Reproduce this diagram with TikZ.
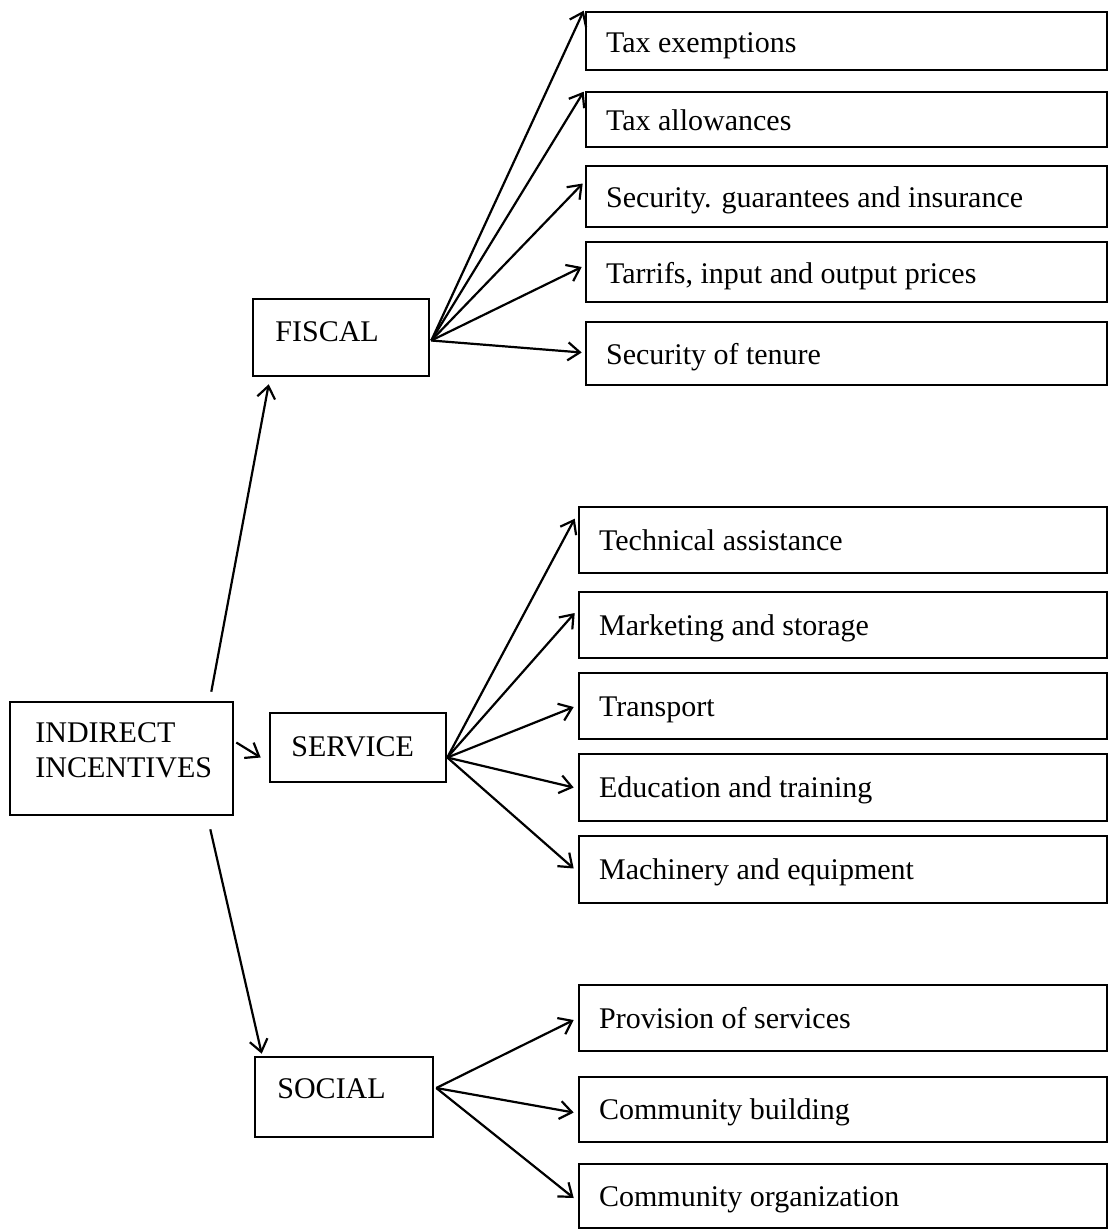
\documentclass[tikz,border=0pt]{standalone}
\usepackage{fontspec}
\setmainfont{Liberation Serif}
\usetikzlibrary{arrows.meta,calc,fit}
\begin{document}
\begin{tikzpicture}[x=0.5pt,y=-0.5pt,
  box/.style={draw, line width=1.3pt, inner sep=0pt},
  lbl/.style={anchor=base west, inner sep=0pt, font=\fontsize{15}{17}\selectfont},
  conn/.style={line width=1.1pt, -{Straight Barb[length=6pt,width=9pt,line width=1.1pt]}},
]
\useasboundingbox (0,0) rectangle (1111,1231);

% left column: root and the three categories
\node[box, fit={(10,702) (233,815)}] (ind) {};
\node[box, fit={(253,299) (429,376)}] (fiscal) {};
\node[box, fit={(270,713) (446,782)}] (service) {};
\node[box, fit={(255,1057) (433,1137)}] (social) {};

\node[lbl] (ind-t1) at (35,742) {INDIRECT};
\node[lbl] (ind-t2) at (35,777) {INCENTIVES};
\node[lbl] (fiscal-t) at (275,341) {FISCAL};
\node[lbl] (service-t) at (291,756) {SERVICE};
\node[lbl] (social-t) at (277,1098) {SOCIAL};

% fiscal instruments
\node[box, fit={(586,12) (1107,70)}] (f1) {};
\node[box, fit={(586,92) (1107,147)}] (f2) {};
\node[box, fit={(586,166) (1107,227)}] (f3) {};
\node[box, fit={(586,242) (1107,302)}] (f4) {};
\node[box, fit={(586,322) (1107,385)}] (f5) {};

% service instruments
\node[box, fit={(579,507) (1107,573)}] (s1) {};
\node[box, fit={(579,592) (1107,658)}] (s2) {};
\node[box, fit={(579,673) (1107,739)}] (s3) {};
\node[box, fit={(579,754) (1107,821)}] (s4) {};
\node[box, fit={(579,836) (1107,903)}] (s5) {};

% social instruments
\node[box, fit={(579,985) (1107,1051)}] (c1) {};
\node[box, fit={(579,1077) (1107,1142)}] (c2) {};
\node[box, fit={(579,1164) (1107,1228)}] (c3) {};

\node[lbl] (f1-t) at ($(f1.west)+(21,11)$) {Tax exemptions};
\node[lbl] (f2-t) at ($(f2.west)+(21,11)$) {Tax allowances};
\node[lbl] (f3-t) at ($(f3.west)+(21,11)$) {Security. guarantees and insurance};
\node[lbl] (f4-t) at ($(f4.west)+(21,11)$) {Tarrifs, input and output prices};
\node[lbl] (f5-t) at ($(f5.west)+(21,11)$) {Security of tenure};

\node[lbl] (s1-t) at ($(s1.west)+(21,10)$) {Technical assistance};
\node[lbl] (s2-t) at ($(s2.west)+(21,10)$) {Marketing and storage};
\node[lbl] (s3-t) at ($(s3.west)+(21,10)$) {Transport};
\node[lbl] (s4-t) at ($(s4.west)+(21,10)$) {Education and training};
\node[lbl] (s5-t) at ($(s5.west)+(21,10)$) {Machinery and equipment};

\node[lbl] (c1-t) at ($(c1.west)+(21,10)$) {Provision of services};
\node[lbl] (c2-t) at ($(c2.west)+(21,10)$) {Community building};
\node[lbl] (c3-t) at ($(c3.west)+(21,10)$) {Community organization};

% root to categories
\draw[conn] ($(ind.north east)+(-23,-9)$) -- ($(fiscal.south west)+(17,7)$);
\draw[conn] ($(ind.east)+(2,-16)$) -- ($(service.west)+(-8,10)$);
\draw[conn] ($(ind.south east)+(-24,13)$) -- ($(social.north west)+(8,-2)$);

% fiscal fan
\draw[conn] ($(fiscal.east)+(1,3)$) -- ($(f1.north west)+(-1,0)$);
\draw[conn] ($(fiscal.east)+(1,3)$) -- ($(f2.north west)+(-1,1)$);
\draw[conn] ($(fiscal.east)+(1,3)$) -- ($(f3.west)+(-2,-13)$);
\draw[conn] ($(fiscal.east)+(1,3)$) -- ($(f4.west)+(-3,-5)$);
\draw[conn] ($(fiscal.east)+(1,3)$) -- ($(f5.west)+(-3,-1)$);

% service fan
\draw[conn] ($(service.east)+(0,10)$) -- ($(s1.north west)+(-3,13)$);
\draw[conn] ($(service.east)+(0,10)$) -- ($(s2.west)+(-3,-12)$);
\draw[conn] ($(service.east)+(0,10)$) -- ($(s3.west)+(-4,1)$);
\draw[conn] ($(service.east)+(0,10)$) -- ($(s4.west)+(-4,0)$);
\draw[conn] ($(service.east)+(0,10)$) -- ($(s5.west)+(-4,-1)$);

% social fan
\draw[conn] ($(social.east)+(2,-9)$) -- ($(c1.west)+(-4,2)$);
\draw[conn] ($(social.east)+(2,-9)$) -- ($(c2.west)+(-4,3)$);
\draw[conn] ($(social.east)+(2,-9)$) -- ($(c3.west)+(-4,2)$);
\end{tikzpicture}
\end{document}
